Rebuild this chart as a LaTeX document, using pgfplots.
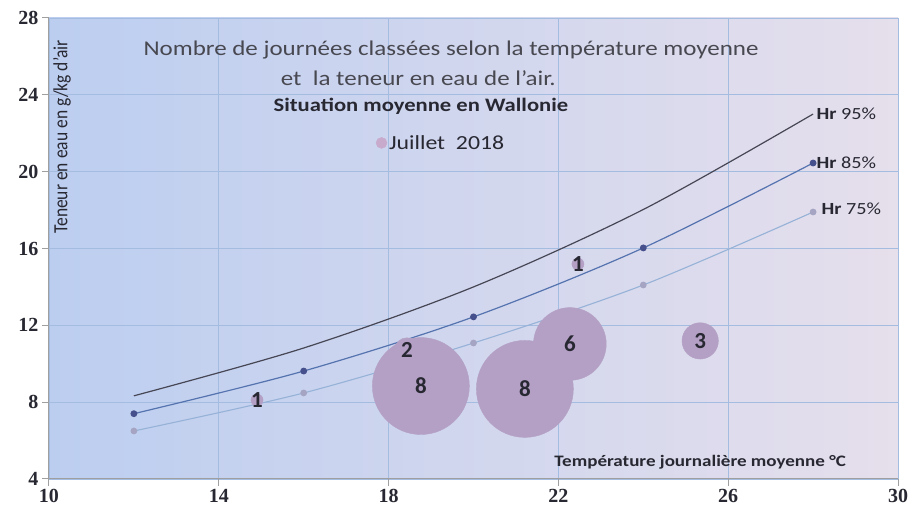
\documentclass[border=0pt]{standalone}
\usepackage{pgfplots}
\pgfplotsset{compat=1.18}
\usepackage{graphicx}
\usepackage{fontspec}
\setmainfont{Carlito}
\newfontfamily\tickfont{Liberation Serif}
\newcommand{\sx}[1]{\scalebox{1.19}[1]{#1}}
\definecolor{bgL}{RGB}{188,206,240}
\definecolor{bgR}{RGB}{230,223,236}
\definecolor{gridc}{RGB}{165,188,225}
\definecolor{bub}{RGB}{180,160,197}
\definecolor{bubl}{RGB}{200,170,205}
\definecolor{txt}{RGB}{40,40,50}
\definecolor{hnf}{RGB}{70,70,85}
\definecolor{hef}{RGB}{85,115,175}
\definecolor{hefm}{RGB}{70,80,140}
\definecolor{hsf}{RGB}{150,178,215}
\definecolor{hsfm}{RGB}{165,165,195}
\pgfplotstableread{
x y n
14.90 8.11 1
18.43 10.72 2
18.76 8.84 8
21.21 8.69 8
22.27 11.03 6
25.34 11.19 3
22.46 15.19 1
}\bubbles
\begin{document}
\begin{tikzpicture}
\path[use as bounding box] (-49pt,-31pt) rectangle (859pt,479pt);
\begin{axis}[
  scale only axis, width=849pt, height=461pt,
  xmin=10, xmax=30, ymin=4, ymax=28,
  xtick={10,14,...,30}, ytick={4,8,...,28},
  axis lines=left, axis line style={draw=gray!75, line width=1pt, -},
  grid=major, major grid style={draw=gridc, line width=0.8pt},
  tick align=outside, major tick length=7pt, tick style={draw=gray!75, line width=1pt},
  ticklabel style={font=\tickfont\bfseries\fontsize{20}{20}\selectfont, text=txt},
  /pgf/number format/assume math mode=true,
  axis background/.style={left color=bgL, right color=bgR},
  clip=false,
  legend style={draw=none, fill=none, at={(rel axis cs:0.385,0.729)}, anchor=west,
    font=\fontsize{20}{22}\selectfont, text=txt, inner sep=0pt},
  legend cell align=left,
]
% Hr 95%
\addplot[hnf, line width=1.2pt, smooth, forget plot] coordinates {
  (12,8.33) (16,10.82) (20,14.0) (24,18.03) (28,23.0)};
% Hr 85%
\addplot[hef, line width=1.2pt, smooth, mark=*, mark size=2.8pt,
  mark options={fill=hefm, draw=hefm}, forget plot] coordinates {
  (12,7.4) (16,9.62) (20,12.44) (24,16.03) (28,20.45)};
% Hr 75%
\addplot[hsf, line width=1.1pt, smooth, mark=*, mark size=2.8pt,
  mark options={fill=hsfm, draw=hsfm}, forget plot] coordinates {
  (12,6.5) (16,8.48) (20,11.08) (24,14.1) (28,17.9)};
% bubbles
\addplot[scatter, only marks, mark=*, forget plot,
  scatter/use mapped color={draw=bub, fill=bub},
  visualization depends on={\thisrow{n}*6.06 \as \perpointmarksize},
  scatter/@pre marker code/.append style={/tikz/mark size=\perpointmarksize}]
  table[x=x, y=y, meta=n] {\bubbles};
% bubble labels
\addplot[draw=none, mark=none, forget plot, point meta=\thisrow{n},
  nodes near coords,
  every node near coord/.append style={anchor=center, text=txt,
    font=\bfseries\fontsize{23}{23}\selectfont}] table[x=x, y=y] {\bubbles};
\addlegendimage{only marks, mark=*, mark size=5.5pt, mark options={fill=bubl, draw=bubl}}
\addlegendentry{\sx{Juillet~~2018}}
% texts
\node[font=\fontsize{21}{21}\selectfont, text=txt!85] at (rel axis cs:0.4735,0.9306)
  {\sx{Nombre de journées classées selon la température moyenne}};
\node[font=\fontsize{21}{21}\selectfont, text=txt!85] at (rel axis cs:0.435,0.870)
  {\sx{et~ la teneur en eau de l'air.}};
\node[font=\bfseries\fontsize{19}{19}\selectfont, text=txt] at (rel axis cs:0.438,0.809)
  {\sx{Situation moyenne en Wallonie}};
\node[rotate=90, font=\fontsize{17.5}{17.5}\selectfont, text=txt] at (rel axis cs:0.0153,0.742)
  {\scalebox{1}[1.15]{Teneur en eau en g/kg d'air}};
\node[font=\bfseries\fontsize{16}{16}\selectfont, text=txt] at (rel axis cs:0.767,0.0369)
  {\sx{Température journalière moyenne °C}};
\node[anchor=west, font=\fontsize{17}{17}\selectfont, text=txt] at (axis cs:28,23.0)
  {\sx{\textbf{Hr} 95\%}};
\node[anchor=west, font=\fontsize{17}{17}\selectfont, text=txt] at (axis cs:28,20.45)
  {\sx{\textbf{Hr} 85\%}};
\node[anchor=west, font=\fontsize{17}{17}\selectfont, text=txt, xshift=5pt] at (axis cs:28,18.05)
  {\sx{\textbf{Hr} 75\%}};
\end{axis}
\end{tikzpicture}
\end{document}
